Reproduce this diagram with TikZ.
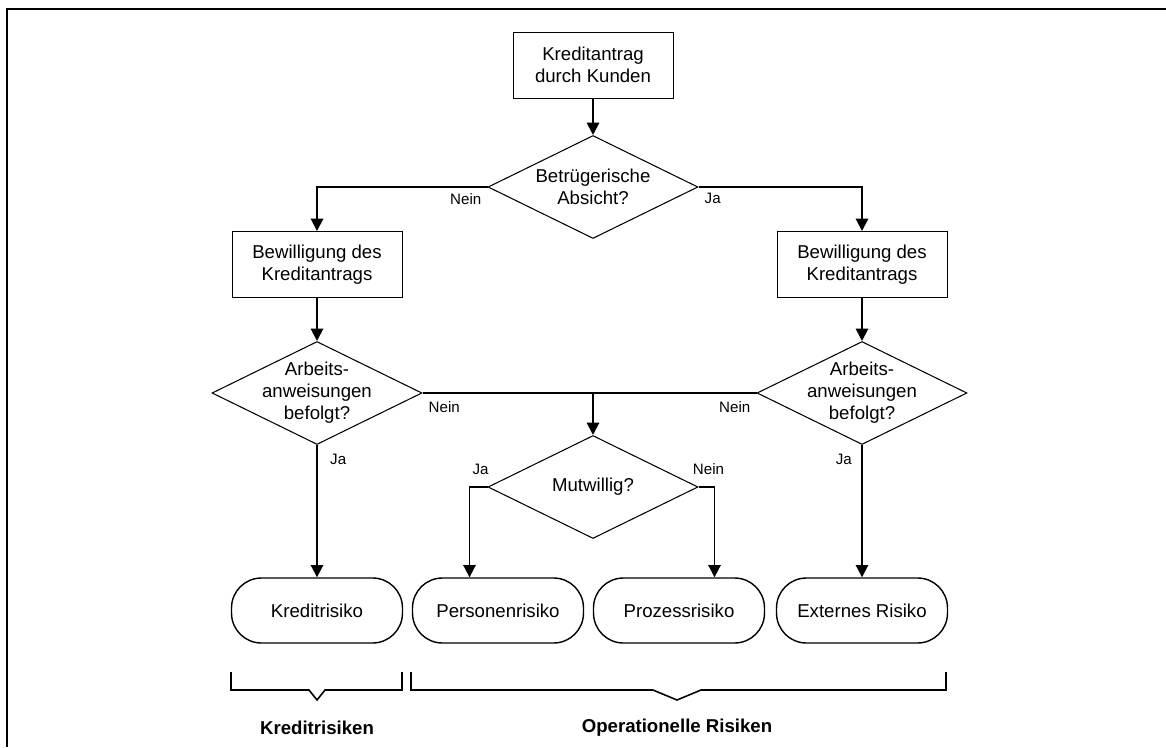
\documentclass[tikz,border=0pt]{standalone}
\usepackage{fontspec}
\setmainfont{Liberation Sans}
\usetikzlibrary{shapes.geometric,arrows.meta}

\tikzset{
  process/.style={draw, line width=0.55pt, minimum width=3.4cm, minimum height=1.32cm,
    align=center, font=\fontsize{10.6}{12.8}\selectfont},
  decision/.style={draw, diamond, line width=0.6pt, minimum width=4.2cm, minimum height=2.06cm,
    inner sep=0pt},
  dtext/.style={align=center, font=\fontsize{10.6}{12.5}\selectfont},
  terminal/.style={draw, rounded corners=17pt, line width=0.8pt, minimum width=3.42cm,
    minimum height=1.3cm, font=\fontsize{10.6}{12.8}\selectfont},
  flow/.style={-{Triangle[length=7pt,width=7pt]}, line width=1.1pt},
  link/.style={line width=1.1pt},
  answer/.style={font=\fontsize{8.6}{10}\selectfont},
  brace/.style={line width=0.9pt},
  group/.style={font=\bfseries\fontsize{10.6}{12.8}\selectfont}
}

\begin{document}
\begin{tikzpicture}[x=0.02cm, y=-0.02cm]
  \useasboundingbox (0,0) rectangle (1166,747);
  \draw[line width=1.3pt] (7,747) -- (7,9) -- (1166,9);

  % flow nodes
  \node[process, minimum width=3.2cm] (start) at (593,65) {Kreditantrag\\durch Kunden};
  \node[decision, label={[dtext]center:Betrügerische\\Absicht?}] (fraud) at (593,187) {};
  \node[process] (bewL) at (317,264.5) {Bewilligung des\\Kreditantrags};
  \node[process] (bewR) at (862,264.5) {Bewilligung des\\Kreditantrags};
  \node[decision, label={[dtext]center:Arbeits-\\anweisungen\\befolgt?}] (arbL) at (317,393) {};
  \node[decision, label={[dtext]center:Arbeits-\\anweisungen\\befolgt?}] (arbR) at (862,393) {};
  \node[decision, label={[dtext]center:Mutwillig?}] (mut) at (593,487) {};

  % risks
  \node[terminal] (kredit) at (317,610.5) {Kreditrisiko};
  \node[terminal] (person) at (498,610.5) {Personenrisiko};
  \node[terminal] (prozess) at (679,610.5) {Prozessrisiko};
  \node[terminal] (extern) at (862,610.5) {Externes Risiko};

  % connectors
  \draw[flow] (start) -- (fraud);
  \draw[flow] (fraud.west) -| (bewL.north);
  \draw[flow] (fraud.east) -| (bewR.north);
  \draw[flow] (bewL) -- (arbL);
  \draw[flow] (bewR) -- (arbR);
  \draw[link] (arbL.east) -- (arbR.west);
  \coordinate (join) at (arbL.east -| mut.north);
  \draw[flow] (join) -- (mut.north);
  \draw[flow] (arbL.south) -- (kredit.north);
  \draw[flow] (arbR.south) -- (extern.north);
  \draw[flow] (mut.west) -- ++(-18,0) coordinate (jaknick) -- (jaknick |- person.north);
  \draw[flow] (mut.east) -- ++(16,0) coordinate (neinknick) -- (neinknick |- prozess.north);

  % answers
  \node[answer, anchor=north east] (fraudno) at (fraud.west) {Nein};
  \node[answer, anchor=north west] (fraudyes) at (fraud.east) {Ja};
  \node[answer, anchor=north west] (arbLno) at ([shift={(0,2)}]arbL.east) {Nein};
  \node[answer, anchor=north east] (arbRno) at ([shift={(0,2)}]arbR.west) {Nein};
  \node[answer, anchor=north west] (arbLyes) at ([shift={(7,3)}]arbL.south) {Ja};
  \node[answer, anchor=north east] (arbRyes) at ([shift={(-4,3)}]arbR.south) {Ja};
  \node[answer, anchor=south] (mutyes) at ([shift={(-7,-6)}]mut.west) {Ja};
  \node[answer, anchor=south] (mutno) at ([shift={(10,-6)}]mut.east) {Nein};

  % groups
  \draw[brace] (231,672) -- (231,690) -- (309,690) -- (317,700) -- (325,690) -- (402,690) -- (402,672);
  \draw[brace] (411,672) -- (411,690) -- (653,690) -- (677,700) -- (701,690) -- (946,690) -- (946,672);
  \node[group] (kredgrp) at (317,728) {Kreditrisiken};
  \node[group] (opgrp) at (677,728) {Operationelle Risiken};
\end{tikzpicture}
\end{document}
